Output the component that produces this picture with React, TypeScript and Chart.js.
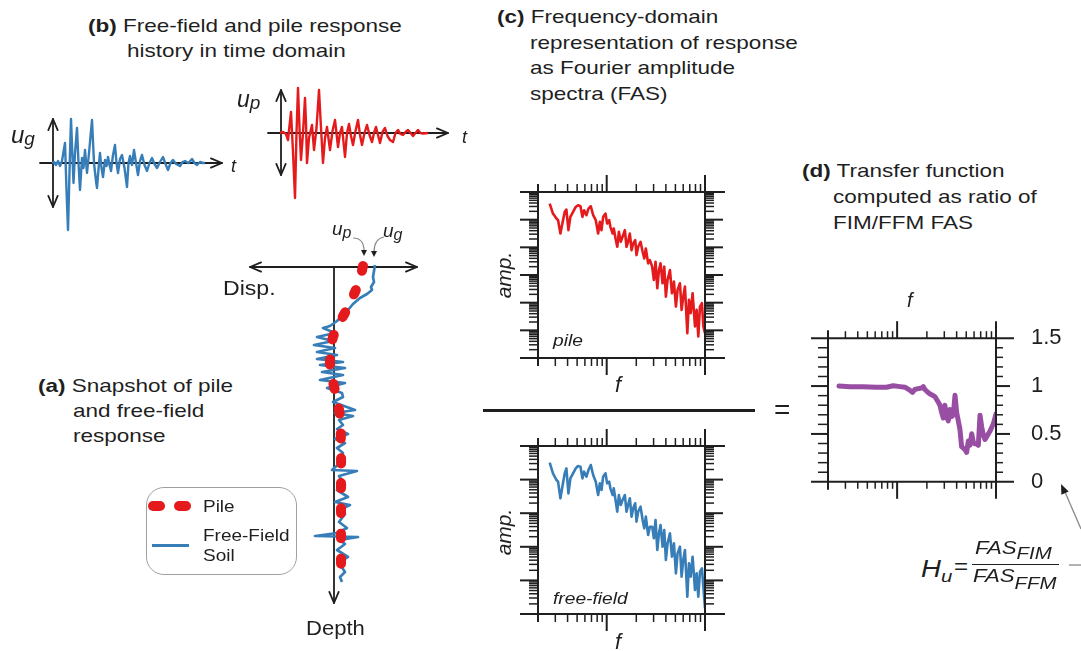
import React, { useEffect, useRef } from "react";
import { Chart, registerables } from "chart.js";

Chart.register(...registerables);

const INK = "#1f1f1f";
const BLUE = "#377eb8";
const RED = "#e41a1c";
const PURPLE = "#984ea3";
const FONT = "'Liberation Sans', Arial, Helvetica, sans-serif";

// ---------- (b) time histories (time in arbitrary units, displacement in arbitrary units)
const ugTime = [52, 54, 56, 58, 60, 62, 65, 66.5, 68, 70, 71, 72.5, 73.5, 75, 77, 78.5, 80, 82, 83.5, 85, 87, 89, 92, 94, 96, 97, 99, 100, 101.5, 103, 105, 106.5, 108, 109.5, 111, 113, 115, 116.5, 118, 120, 122, 124.5, 127, 128.5, 130, 132, 134, 136, 138, 140, 142, 144.5, 147, 149.5, 152, 154.5, 157, 160, 163, 165.5, 168, 170.5, 173, 176, 180, 182.5, 185, 188.5, 192, 194.5, 197, 200, 203, 205];
const ugDisp = [0, 1, -2, 2, -3, 2, 20, -27, -67, 10, 44, 5, -20, 10, 35, 0, -27, 5, -5, 13, -10, 10, 43, 0, -18, -25, 0, 10, -5, -14, 3, -3, 6, -2, -8, 8, 18, 0, -10, 4, 8, -5, -24, 0, 7, -2, 13, 0, -12, 2, 8, -2, -8, 0, 5, -1, -5, 1, 6, -1, -7, 0, 3, -1, -3, 1, 2, 0, 4, 0, -2, 1, 0, 0];
const upTime = [40, 43, 46, 48, 51, 53, 55, 56.5, 58, 59.5, 61, 63, 65, 66, 67, 69, 72, 74, 76.5, 79, 81, 83, 85, 87, 90, 92.5, 95, 98, 100, 102, 105, 107, 109, 111, 113, 115.5, 118, 120, 122, 124.5, 127, 129.5, 132, 134, 136, 138, 140, 142.5, 145, 147.5, 150, 153, 155.5, 158, 160.5, 163, 165.5, 168, 170.5, 173, 175.5, 178, 180.5, 183, 188];
const upDisp = [0, 1, -1, -7, 21, -19, -65, 0, 45, 5, -27, 0, 35, 10, -30, -5, 8, -17, 5, 43, 5, -30, -5, 6, -17, 2, 13, -14, 0, 6, -24, 0, 9, -3, -12, 2, 13, -2, -12, 0, 8, -2, -9, 0, 6, -2, -10, 1, 5, -3, -7, -9, 0, 3, -1, -2, 1, 3, 0, -3, 0, 3, 0, -0.5, 0];
// axis extents (time-axis start/end, position of the amplitude arrow, its top/bottom)
const ugAxis = { t0: 40, t1: 222, tv: 53, vTop: 44, vBot: -44 };
const upAxis = { t0: 28, t1: 208, tv: 41, vTop: 43, vBot: -42 };

// ---------- (a) snapshot of displacement with depth
const soilDisp = [41, 39, 40, 37, 38, 33, 26, 19, 14, 9, 3, -4, -11, 1, -17, -1, -20, 1, -17, 3, -17, 9, -14, 11, -12, 9, -14, 11, -7, 8, 9, -1, 21, 1, 19, 5, 9, 3, 14, 1, 11, 3, 9, 5, 6, -2, 23, 5, 11, 3, 14, 1, 16, 5, 11, 5, 13, 3, -19, 24, 6, 11, 3, 14, 5, 11, 6, 8];
const soilDepth = [-2, 10, 15, 20, 23, 27, 31, 37, 43, 48, 54, 59, 61, 66, 70, 74, 78, 81, 85, 88, 92, 95, 98, 101, 105, 108, 113, 116, 121, 126, 130, 135, 143, 146, 149, 153, 158, 162, 167, 172, 176, 181, 186, 191, 196, 203, 204, 209, 218, 223, 230, 235, 238, 243, 247, 255, 261, 266, 269, 270, 273, 277, 283, 290, 296, 305, 310, 315];
const pileDisp = [29, 26, 21, 14, 6, -1, -3, -4, -1, 3, 6, 7, 7, 7, 7, 7];
const pileDepth = [-1, 12, 25, 40, 55, 70, 83, 98, 115, 132, 150, 180, 210, 240, 270, 300];

// ---------- (c) Fourier amplitude spectra
const fasFreq = [2.63, 2.84, 3.08, 3.2, 3.38, 3.54, 3.74, 3.89, 4.08, 4.27, 4.55, 4.84, 5.11, 5.41, 5.66, 5.89, 6.22, 6.52, 6.89, 7.28, 7.74, 8.18, 8.51, 8.85, 9.2, 9.72, 10.1, 10.6, 10.9, 11.5, 11.8, 12.3, 12.8, 13.3, 13.9, 14.5, 15.3, 15.9, 16.5, 17.2, 17.9, 18.6, 19.5, 20.1, 20.9, 22.1, 23.2, 24.1, 25.0, 26.4, 27.5, 29.0, 30.2, 31.4, 32.7, 34.0, 35.3, 37.0, 38.5, 40.0, 41.6, 44.0, 46.1, 48.3, 50.6, 52.6, 55.6, 57.8, 60.1, 62.5, 66.1, 68.7, 71.5, 74.8, 79.1, 82.2, 85.5, 88.9, 93.1, 96.2, 100];
const pileAmp = [0.38, 0.166, 0.11, 0.0955, 0.0316, 0.0724, 0.191, 0.231, 0.0417, 0.126, 0.191, 0.288, 0.331, 0.305, 0.126, 0.219, 0.145, 0.251, 0.305, 0.145, 0.0955, 0.0316, 0.0832, 0.0417, 0.126, 0.166, 0.0724, 0.0955, 0.055, 0.0316, 0.0479, 0.0209, 0.0105, 0.0363, 0.0158, 0.024, 0.0417, 0.0105, 0.0158, 0.0316, 0.00794, 0.0138, 0.0182, 0.00525, 0.0105, 0.0158, 0.00692, 0.00398, 0.00912, 0.00263, 0.00347, 0.002, 0.000661, 0.00302, 0.000331, 0.00151, 0.00263, 0.000501, 0.002, 0.000166, 0.000661, 0.00151, 0.000219, 0.000575, 0.0000724, 0.000288, 0.000501, 0.000055, 0.000166, 0.00038, 0.00000794, 0.000126, 0.0000417, 0.000219, 0.0000138, 0.000055, 0.00000603, 0.0000724, 0.0000955, 0.0000138, 0.00000794];
const ffAmp = [0.319, 0.154, 0.0973, 0.0868, 0.0277, 0.0616, 0.154, 0.216, 0.039, 0.109, 0.154, 0.216, 0.254, 0.243, 0.109, 0.172, 0.122, 0.193, 0.272, 0.137, 0.0868, 0.0348, 0.0774, 0.049, 0.122, 0.154, 0.0774, 0.0868, 0.055, 0.0348, 0.055, 0.0247, 0.0111, 0.0348, 0.0175, 0.0247, 0.0348, 0.0111, 0.0175, 0.0277, 0.00789, 0.014, 0.0197, 0.0056, 0.0111, 0.0156, 0.00628, 0.00355, 0.00789, 0.00224, 0.00397, 0.00397, 0.00179, 0.00628, 0.000803, 0.00252, 0.00446, 0.00101, 0.00316, 0.000405, 0.00127, 0.00252, 0.000508, 0.00127, 0.000162, 0.00064, 0.00101, 0.000129, 0.000405, 0.000803, 0.0000328, 0.000322, 0.000129, 0.000508, 0.0000518, 0.000162, 0.0000328, 0.000182, 0.000229, 0.000065, 0.0000148];

// ---------- (d) transfer function
const tfFreq = [2.58, 3.32, 4.53, 6.18, 7.8, 9.12, 10.7, 12.0, 13.4, 14.3, 15.1, 16.3, 17.7, 18.4, 19.1, 20.2, 21.4, 22.8, 24.1, 25.1, 26.1, 27.1, 28.2, 29.3, 30.4, 31.6, 32.9, 34.2, 35.6, 37.0, 38.5, 40.0, 41.6, 43.2, 44.9, 46.7, 48.5, 50.5, 52.5, 54.6, 56.8, 59.0, 61.3, 63.7, 66.3, 68.9, 71.6, 74.5, 77.4, 80.5, 87.1, 94.0, 100];
const tfRatio = [1.0, 0.994, 0.994, 0.988, 0.988, 1.003, 0.994, 0.988, 0.958, 0.934, 0.964, 0.973, 0.979, 0.994, 0.964, 0.94, 0.919, 0.904, 0.89, 0.86, 0.83, 0.8, 0.725, 0.666, 0.8, 0.681, 0.636, 0.755, 0.681, 0.696, 0.904, 0.725, 0.636, 0.546, 0.367, 0.352, 0.337, 0.307, 0.427, 0.382, 0.501, 0.412, 0.397, 0.397, 0.382, 0.696, 0.576, 0.487, 0.442, 0.472, 0.531, 0.606, 0.71];

// ---------- ticks
const freqMinorTicks = [3, 4, 5, 6, 7, 8, 9, 20, 30, 40, 50, 60, 70, 80, 90];
const freqMajorTicks = [10, 100];
const ampMinorMult = [2, 3, 4, 5, 6, 7, 8, 9];
const pileAmpDecades = [1e-6, 1e-5, 1e-4, 1e-3, 1e-2, 1e-1];
const ffAmpDecades = [1e-5, 1e-4, 1e-3, 1e-2, 1e-1];
const tfMinorTicks = [0.1, 0.2, 0.3, 0.4, 0.6, 0.7, 0.8, 0.9, 1.1, 1.2, 1.3, 1.4];
const tfMajorTicks = [0.5, 1];
const tfTickValues = [0, 0.5, 1, 1.5];
const tfTickLabels = ["0", "0.5", "1", "1.5"];

// ---------- drawing helpers
function seg(ctx: CanvasRenderingContext2D, x1: number, y1: number, x2: number, y2: number) {
  ctx.beginPath();
  ctx.moveTo(x1, y1);
  ctx.lineTo(x2, y2);
  ctx.stroke();
}
function chevron(ctx: CanvasRenderingContext2D, x: number, y: number, ang: number, len = 12, half = 0.4) {
  ctx.beginPath();
  ctx.moveTo(x - len * Math.cos(ang - half), y - len * Math.sin(ang - half));
  ctx.lineTo(x, y);
  ctx.lineTo(x - len * Math.cos(ang + half), y - len * Math.sin(ang + half));
  ctx.stroke();
}

const commonOptions = (padding: any) => ({
  responsive: false,
  animation: false,
  devicePixelRatio: 1,
  events: [],
  layout: { padding },
  plugins: { legend: { display: false }, tooltip: { enabled: false } },
});

function timeAxesPlugin(ax: any) {
  return {
    id: "timeAxes",
    beforeDatasetsDraw(chart: any) {
      const { ctx, scales } = chart;
      const x = scales.x, y = scales.y;
      const X0 = x.getPixelForValue(ax.t0), X1 = x.getPixelForValue(ax.t1);
      const Y0 = y.getPixelForValue(0);
      const XV = x.getPixelForValue(ax.tv);
      const YT = y.getPixelForValue(ax.vTop), YB = y.getPixelForValue(ax.vBot);
      ctx.save();
      ctx.strokeStyle = INK;
      ctx.lineWidth = 1.8;
      ctx.lineCap = "round";
      ctx.lineJoin = "round";
      seg(ctx, X0, Y0, X1, Y0);
      chevron(ctx, X1, Y0, 0);
      seg(ctx, XV, YT, XV, YB);
      chevron(ctx, XV, YT, -Math.PI / 2);
      chevron(ctx, XV, YB, Math.PI / 2);
      ctx.restore();
    },
  };
}

function timeConfig(t: number[], v: number[], color: string, ax: any) {
  return {
    type: "line",
    data: {
      datasets: [
        {
          data: t.map((tt, i) => ({ x: tt, y: v[i] })),
          borderColor: color,
          borderWidth: 2.4,
          pointRadius: 0,
          tension: 0,
          borderJoinStyle: "round",
          clip: false,
        },
      ],
    },
    options: {
      ...commonOptions(0),
      scales: {
        x: { type: "linear", min: 0, max: 240, display: false },
        y: { type: "linear", min: -75, max: 75, display: false },
      },
    },
    plugins: [timeAxesPlugin(ax)],
  };
}

function snapshotPlugin() {
  return {
    id: "snapshot",
    beforeDatasetsDraw(chart: any) {
      const { ctx, scales } = chart;
      const x = scales.x, y = scales.y;
      const Y0 = y.getPixelForValue(0);
      const XL = x.getPixelForValue(-84), XR = x.getPixelForValue(83);
      const X0 = x.getPixelForValue(0);
      const YB = y.getPixelForValue(336);
      ctx.save();
      ctx.strokeStyle = INK;
      ctx.lineWidth = 1.8;
      ctx.lineCap = "round";
      ctx.lineJoin = "round";
      seg(ctx, XL, Y0, XR, Y0);
      chevron(ctx, XL, Y0, Math.PI);
      chevron(ctx, XR, Y0, 0);
      seg(ctx, X0, Y0, X0, YB);
      chevron(ctx, X0, YB, Math.PI / 2);
      ctx.restore();
    },
    afterDatasetsDraw(chart: any) {
      const { ctx } = chart;
      const p = chart.getDatasetMeta(0).data[0];
      const s = chart.getDatasetMeta(1).data[0];
      const head = (tx: number, ty: number) => {
        ctx.beginPath();
        ctx.moveTo(tx, ty);
        ctx.lineTo(tx - 3, ty - 6);
        ctx.lineTo(tx + 3, ty - 6);
        ctx.closePath();
        ctx.fill();
      };
      ctx.save();
      ctx.strokeStyle = "#8a8a8a";
      ctx.fillStyle = INK;
      ctx.lineWidth = 1.2;
      let tx = p.x + 1, ty = p.y - 10;
      ctx.beginPath();
      ctx.moveTo(p.x - 10, p.y - 28);
      ctx.quadraticCurveTo(tx, p.y - 28, tx, ty - 5);
      ctx.stroke();
      head(tx, ty);
      tx = s.x - 1;
      ty = s.y - 8;
      ctx.beginPath();
      ctx.moveTo(s.x + 9, s.y - 28);
      ctx.quadraticCurveTo(tx, s.y - 26, tx, ty - 5);
      ctx.stroke();
      head(tx, ty);
      ctx.restore();
    },
  };
}

function snapshotConfig() {
  return {
    type: "line",
    data: {
      datasets: [
        {
          data: pileDisp.map((d, i) => ({ x: d, y: pileDepth[i] })),
          borderColor: RED,
          borderWidth: 10,
          borderDash: [5, 20],
          borderCapStyle: "round",
          borderJoinStyle: "round",
          pointRadius: 0,
          tension: 0.3,
          order: 0,
          clip: false,
        },
        {
          data: soilDisp.map((d, i) => ({ x: d, y: soilDepth[i] })),
          borderColor: BLUE,
          borderWidth: 2.7,
          borderJoinStyle: "round",
          pointRadius: 0,
          tension: 0,
          order: 1,
          clip: false,
        },
      ],
    },
    options: {
      ...commonOptions(0),
      scales: {
        x: { type: "linear", min: -104, max: 106, display: false },
        y: { type: "linear", min: -67, max: 353, reverse: true, display: false },
      },
    },
    plugins: [snapshotPlugin()],
  };
}

function framePlugin(c: any) {
  return {
    id: "frameTicks",
    afterDraw(chart: any) {
      const { ctx, chartArea: a, scales } = chart;
      const x = scales.x, y = scales.y;
      ctx.save();
      ctx.strokeStyle = INK;
      ctx.lineCap = "butt";
      ctx.lineWidth = 2;
      seg(ctx, a.left - c.hExtL, a.top, a.right + c.hExtR, a.top);
      seg(ctx, a.left - c.hExtL, a.bottom, a.right + c.hExtR, a.bottom);
      seg(ctx, a.left, a.top - c.vExt, a.left, a.bottom + c.vExt);
      seg(ctx, a.right, a.top - c.vExt, a.right, a.bottom + c.vExt);
      ctx.lineWidth = 1.5;
      c.xMinor.forEach((v: number) => {
        const px = x.getPixelForValue(v);
        seg(ctx, px, a.top, px, a.top - c.xMinorLen);
        seg(ctx, px, a.bottom, px, a.bottom + c.xMinorLen);
      });
      c.yMinor.forEach((v: number) => {
        const py = y.getPixelForValue(v);
        seg(ctx, a.left, py, a.left - c.yLMinor, py);
        seg(ctx, a.right, py, a.right + c.yRMinor, py);
      });
      ctx.lineWidth = 2;
      c.xMajor.forEach((v: number) => {
        const px = x.getPixelForValue(v);
        seg(ctx, px, a.top, px, a.top - c.xMajorLen);
        seg(ctx, px, a.bottom, px, a.bottom + c.xMajorLen);
      });
      c.yMajor.forEach((v: number) => {
        const py = y.getPixelForValue(v);
        seg(ctx, a.left, py, a.left - c.yLMajor, py);
        seg(ctx, a.right, py, a.right + c.yRMajor, py);
      });
      ctx.restore();
    },
  };
}

function logMinor(decades: number[]) {
  const out: number[] = [];
  decades.forEach((d) => ampMinorMult.forEach((m) => out.push(d * m)));
  return out;
}

function fasConfig(amp: number[], color: string, decades: number[], padding: any) {
  return {
    type: "line",
    data: {
      datasets: [
        {
          data: fasFreq.map((f, i) => ({ x: f, y: amp[i] })),
          borderColor: color,
          borderWidth: 2.6,
          borderJoinStyle: "round",
          pointRadius: 0,
          tension: 0,
        },
      ],
    },
    options: {
      ...commonOptions(padding),
      scales: {
        x: { type: "logarithmic", min: 2, max: 100, display: false },
        y: { type: "logarithmic", min: decades[0], max: 1, display: false },
      },
    },
    plugins: [
      framePlugin({
        xMinor: freqMinorTicks,
        xMajor: freqMajorTicks,
        yMinor: logMinor(decades),
        yMajor: decades.slice(1),
        hExtL: 18,
        hExtR: 20,
        vExt: 8,
        xMinorLen: 8,
        xMajorLen: 17,
        yLMinor: 9,
        yLMajor: 18,
        yRMinor: 9,
        yRMajor: 18,
      }),
    ],
  };
}

function tfConfig() {
  return {
    type: "line",
    data: {
      datasets: [
        {
          data: tfFreq.map((f, i) => ({ x: f, y: tfRatio[i] })),
          borderColor: PURPLE,
          borderWidth: 5,
          borderJoinStyle: "round",
          borderCapStyle: "round",
          pointRadius: 0,
          tension: 0,
        },
      ],
    },
    options: {
      ...commonOptions({ left: 38, top: 40, right: 0, bottom: 32 }),
      scales: {
        x: { type: "logarithmic", min: 2, max: 100, display: false },
        y: {
          type: "linear",
          position: "right",
          min: 0,
          max: 1.5,
          afterFit: (s: any) => {
            s.width = 85;
          },
          afterBuildTicks: (s: any) => {
            s.ticks = tfTickValues.map((v) => ({ value: v }));
          },
          ticks: {
            padding: 35,
            color: INK,
            font: { size: 22, family: FONT },
            callback: (v: any) => tfTickLabels[tfTickValues.indexOf(Number(v))],
          },
          grid: { display: false, drawTicks: false },
          border: { display: false },
        },
      },
    },
    plugins: [
      framePlugin({
        xMinor: freqMinorTicks,
        xMajor: freqMajorTicks,
        yMinor: tfMinorTicks,
        yMajor: tfMajorTicks,
        hExtL: 17,
        hExtR: 18,
        vExt: 8,
        xMinorLen: 7,
        xMajorLen: 17,
        yLMinor: 10,
        yLMajor: 17,
        yRMinor: 7,
        yRMajor: 14,
      }),
    ],
  };
}

function ChartCanvas({ left, top, width, height, make }: any) {
  const ref = useRef<HTMLCanvasElement | null>(null);
  useEffect(() => {
    if (!ref.current) return;
    const chart = new Chart(ref.current, make());
    return () => chart.destroy();
  }, []);
  return (
    <canvas
      ref={ref}
      width={width}
      height={height}
      style={{ position: "absolute", left, top, width, height }}
    />
  );
}

function Txt({ x, base, size, children, italic, bold, sx = 1.21, color = INK }: any) {
  return (
    <div
      style={{
        position: "absolute",
        left: x,
        top: base - 0.8465 * size,
        fontSize: size,
        lineHeight: `${size}px`,
        fontFamily: FONT,
        fontStyle: italic ? "italic" : "normal",
        fontWeight: bold ? "bold" : "normal",
        color,
        whiteSpace: "nowrap",
        transform: `scaleX(${sx})`,
        transformOrigin: "left top",
      }}
    >
      {children}
    </div>
  );
}

function Sub({ size, dy, children }: any) {
  return <span style={{ fontSize: size, position: "relative", top: dy }}>{children}</span>;
}

function RotTxt({ cx, cy, size, children }: any) {
  return (
    <div
      style={{
        position: "absolute",
        left: cx,
        top: cy,
        transform: "translate(-50%, -50%) rotate(-90deg)",
        fontSize: size,
        lineHeight: `${size}px`,
        fontFamily: FONT,
        fontStyle: "italic",
        color: INK,
        whiteSpace: "nowrap",
      }}
    >
      {children}
    </div>
  );
}

export default function App() {
  const T = 18.6;
  return (
    <div
      style={{
        position: "absolute",
        left: 0,
        top: 0,
        width: 1081,
        height: 651,
        overflow: "hidden",
        background: "#ffffff",
        fontFamily: FONT,
        color: INK,
      }}
    >
      {/* titles */}
      <Txt x={88} base={33} size={T}><b>(b)</b> Free-field and pile response</Txt>
      <Txt x={127} base={58} size={T}>history in time domain</Txt>
      <Txt x={497} base={24} size={T}><b>(c)</b> Frequency-domain</Txt>
      <Txt x={530} base={49.5} size={T}>representation of response</Txt>
      <Txt x={530} base={75} size={T}>as Fourier amplitude</Txt>
      <Txt x={530} base={100.5} size={T}>spectra (FAS)</Txt>
      <Txt x={802} base={178} size={T}><b>(d)</b> Transfer function</Txt>
      <Txt x={833} base={204} size={T}>computed as ratio of</Txt>
      <Txt x={833} base={230} size={T}>FIM/FFM FAS</Txt>
      <Txt x={38} base={393} size={T}><b>(a)</b> Snapshot of pile</Txt>
      <Txt x={73} base={418} size={T}>and free-field</Txt>
      <Txt x={73} base={443} size={T}>response</Txt>

      {/* (b) time histories */}
      <ChartCanvas left={0} top={88} width={240} height={150} make={() => timeConfig(ugTime, ugDisp, BLUE, ugAxis)} />
      <ChartCanvas left={240} top={58} width={240} height={150} make={() => timeConfig(upTime, upDisp, RED, upAxis)} />
      <Txt x={11} base={143} size={24} italic sx={1}>u<Sub size={19} dy={2}>g</Sub></Txt>
      <Txt x={231} base={172} size={18} italic sx={1}>t</Txt>
      <Txt x={237} base={107} size={23} italic sx={1}>u<Sub size={19} dy={2}>p</Sub></Txt>
      <Txt x={462} base={143} size={18} italic sx={1}>t</Txt>

      {/* (a) snapshot */}
      <ChartCanvas left={230} top={200} width={210} height={420} make={snapshotConfig} />
      <Txt x={332} base={235} size={19} italic sx={1}>u<Sub size={16} dy={3}>p</Sub></Txt>
      <Txt x={383} base={237} size={19} italic sx={1}>u<Sub size={16} dy={3}>g</Sub></Txt>
      <Txt x={223} base={295} size={21} sx={1.1}>Disp.</Txt>
      <Txt x={306} base={635} size={21} sx={1.05}>Depth</Txt>

      {/* legend */}
      <div
        style={{
          position: "absolute",
          left: 146,
          top: 487,
          width: 151,
          height: 88,
          border: "1.5px solid #a0a0a0",
          borderRadius: 18,
          boxSizing: "border-box",
        }}
      />
      <div style={{ position: "absolute", left: 148, top: 501, width: 17, height: 10, borderRadius: 6, background: RED }} />
      <div style={{ position: "absolute", left: 174, top: 501, width: 17, height: 10, borderRadius: 6, background: RED }} />
      <div style={{ position: "absolute", left: 152, top: 544, width: 37, height: 3, background: BLUE }} />
      <Txt x={203} base={512} size={16.5} sx={1.15}>Pile</Txt>
      <Txt x={203} base={541} size={16.5} sx={1.15}>Free-Field</Txt>
      <Txt x={203} base={561} size={16.5} sx={1.15}>Soil</Txt>

      {/* (c) FAS */}
      <ChartCanvas left={490} top={160} width={260} height={230} make={() => fasConfig(pileAmp, RED, pileAmpDecades, { left: 48, top: 32, right: 45, bottom: 32 })} />
      <ChartCanvas left={490} top={420} width={260} height={231} make={() => fasConfig(ffAmp, BLUE, ffAmpDecades, { left: 48, top: 26, right: 45, bottom: 37 })} />
      <RotTxt cx={503} cy={275} size={21}>amp.</RotTxt>
      <RotTxt cx={503} cy={532} size={21}>amp.</RotTxt>
      <Txt x={553} base={347} size={16} italic sx={1.2}>pile</Txt>
      <Txt x={553} base={605} size={16} italic sx={1.2}>free-field</Txt>
      <Txt x={615} base={393} size={22} italic sx={1}>f</Txt>
      <Txt x={615} base={650} size={22} italic sx={1}>f</Txt>
      <div style={{ position: "absolute", left: 483, top: 408.5, width: 272, height: 3, background: INK }} />
      <Txt x={774} base={420} size={28} sx={1}>=</Txt>

      {/* (d) transfer function */}
      <ChartCanvas left={790} top={290} width={291} height={240} make={tfConfig} />
      <Txt x={907} base={307} size={20} italic sx={1}>f</Txt>

      {/* formula */}
      <Txt x={921} base={577} size={23} italic sx={1.2}>H<Sub size={17} dy={5}>u</Sub></Txt>
      <Txt x={954} base={575} size={22} sx={1.1}>=</Txt>
      <div style={{ position: "absolute", left: 972, top: 563.5, width: 87, height: 1.6, background: INK }} />
      <Txt x={975} base={555} size={18.5} italic sx={1.2}>FAS<Sub size={17} dy={5}>FIM</Sub></Txt>
      <Txt x={973} base={583} size={18.5} italic sx={1.2}>FAS<Sub size={17} dy={7}>FFM</Sub></Txt>

      <svg width={1081} height={651} style={{ position: "absolute", left: 0, top: 0, pointerEvents: "none" }}>
        <line x1={1081} y1={529} x2={1065} y2={492} stroke="#8a8a8a" strokeWidth={1.3} />
        <polygon points="1061,484 1068.7,491.5 1061.4,494.8" fill={INK} />
        <line x1={1069} y1={565} x2={1081} y2={565} stroke="#9a9a9a" strokeWidth={1.5} />
      </svg>
    </div>
  );
}
